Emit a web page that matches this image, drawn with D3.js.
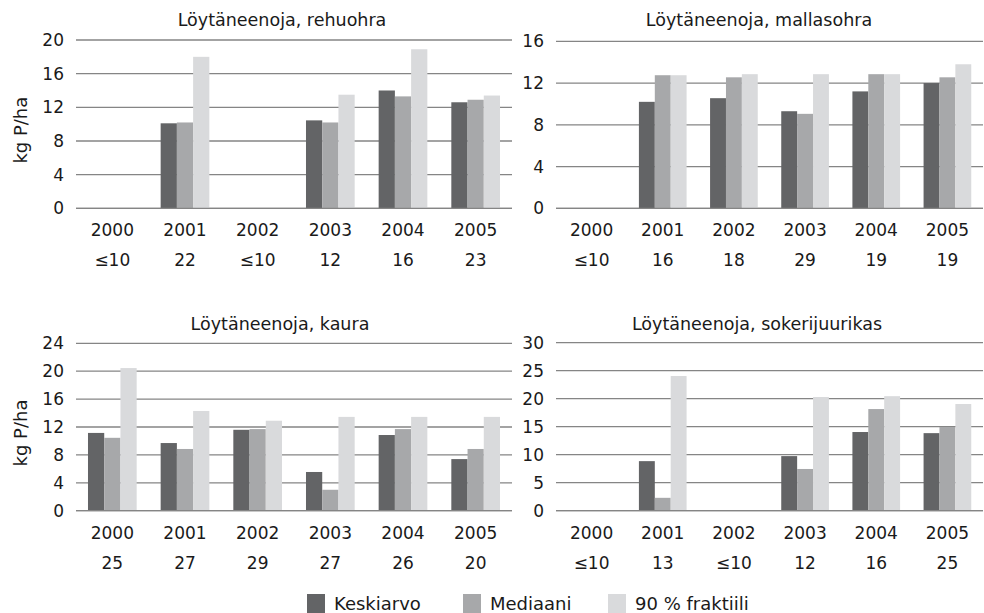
<!DOCTYPE html>
<html><head><meta charset="utf-8">
<script src="https://cdn.jsdelivr.net/npm/d3@7"></script>
<style>body{margin:0;background:#fff}svg{display:block;font-family:"DejaVu Sans",sans-serif}</style>
</head><body><svg id="c" width="984" height="613"></svg>
<script>
const years = ["2000","2001","2002","2003","2004","2005"];
const seriesNames = ["Keskiarvo","Mediaani","90 % fraktiili"];
const colors = ["#636466","#a7a8aa","#d9dadc"];

const titles = ["Löytäneenoja, rehuohra","Löytäneenoja, mallasohra","Löytäneenoja, kaura","Löytäneenoja, sokerijuurikas"];
const counts = [
  ["≤10","22","≤10","12","16","23"],
  ["≤10","16","18","29","19","19"],
  ["25","27","29","27","26","20"],
  ["≤10","13","≤10","12","16","25"]
];
const yMax = [20,16,24,30];
const yStep = [4,4,4,5];

// rehuohra
const rehuKeski = [null,10.1,null,10.45,14.0,12.6];
const rehuMedi  = [null,10.2,null,10.2,13.3,12.9];
const rehuFrak  = [null,18.0,null,13.5,18.9,13.4];
// mallasohra
const mallasKeski = [null,10.2,10.55,9.3,11.2,12.0];
const mallasMedi  = [null,12.75,12.55,9.05,12.85,12.55];
const mallasFrak  = [null,12.75,12.85,12.85,12.85,13.8];
// kaura
const kauraKeski = [11.15,9.7,11.6,5.55,10.85,7.4];
const kauraMedi  = [10.45,8.85,11.7,3.0,11.7,8.85];
const kauraFrak  = [20.45,14.3,12.9,13.45,13.45,13.45];
// sokerijuurikas
const sokeriKeski = [null,8.85,null,9.75,14.05,13.85];
const sokeriMedi  = [null,2.3,null,7.45,18.15,14.95];
const sokeriFrak  = [null,24.05,null,20.3,20.45,19.05];

const panelSeries = [
  [rehuKeski,rehuMedi,rehuFrak],
  [mallasKeski,mallasMedi,mallasFrak],
  [kauraKeski,kauraMedi,kauraFrak],
  [sokeriKeski,sokeriMedi,sokeriFrak]
];

const svg = d3.select("#c");
const layout = [
  {x0:76,x1:512,yTop:40,yBot:208.3,title:[282,20],ylab:true},
  {x0:556,x1:983,yTop:41.3,yBot:208.3,title:[759,20],ylab:false},
  {x0:76,x1:512,yTop:343.3,yBot:510.7,title:[280,324],ylab:true},
  {x0:556,x1:983,yTop:342.7,yBot:510.7,title:[757,324],ylab:false}
];
const TXT = "#1a1a1a";

layout.forEach((L,p)=>{
  const g = svg.append("g");
  const x0 = d3.scaleBand().domain(years).range([L.x0,L.x1]).paddingInner(0.33).paddingOuter(0.165);
  const x1 = d3.scaleBand().domain(d3.range(3)).range([0,x0.bandwidth()]);
  const y = d3.scaleLinear().domain([0,yMax[p]]).range([L.yBot,L.yTop]);
  const ticks = d3.range(0,yMax[p]+0.001,yStep[p]);

  g.selectAll("line.grid").data(ticks).join("line")
    .attr("x1",L.x0).attr("x2",L.x1)
    .attr("y1",d=>y(d)).attr("y2",d=>y(d))
    .attr("stroke","#858585").attr("stroke-width",1.3);
  g.selectAll("text.yt").data(ticks).join("text")
    .attr("x",L.x0-12).attr("y",d=>y(d)).attr("dy","0.36em")
    .attr("text-anchor","end").attr("font-size",17).attr("fill",TXT)
    .text(d=>d);

  const flat = [];
  panelSeries[p].forEach((s,si)=>s.forEach((v,yi)=>{ if(v!=null) flat.push({si,yi,v}); }));
  g.selectAll("rect").data(flat).join("rect")
    .attr("x",d=>x0(years[d.yi])+x1(d.si))
    .attr("width",x1.bandwidth())
    .attr("y",d=>y(d.v))
    .attr("height",d=>y(0)-y(d.v))
    .attr("fill",d=>colors[d.si]);

  g.append("line").attr("x1",L.x0).attr("x2",L.x1).attr("y1",y(0)).attr("y2",y(0))
    .attr("stroke","#858585").attr("stroke-width",1.3);

  g.selectAll("text.xy").data(years).join("text")
    .attr("x",d=>x0(d)+x0.bandwidth()/2).attr("y",L.yBot+22).attr("dy","0.36em")
    .attr("text-anchor","middle").attr("font-size",17).attr("fill",TXT).text(d=>d);
  g.selectAll("text.xc").data(counts[p]).join("text")
    .attr("x",(d,i)=>x0(years[i])+x0.bandwidth()/2).attr("y",L.yBot+52).attr("dy","0.36em")
    .attr("text-anchor","middle").attr("font-size",17).attr("fill",TXT).text(d=>d);

  g.append("text").attr("x",L.title[0]).attr("y",L.title[1]).attr("dy","0.36em")
    .attr("text-anchor","middle").attr("font-size",17.5).attr("fill",TXT).text(titles[p]);

  if(L.ylab){
    g.append("text").attr("transform",`translate(21,${(L.yTop+L.yBot)/2 + 6}) rotate(-90)`)
      .attr("dy","0.36em").attr("text-anchor","middle").attr("font-size",18).attr("fill",TXT).text("kg P/ha");
  }
});

const legX = [307,463,608];
const lg = svg.append("g");
seriesNames.forEach((n,i)=>{
  lg.append("rect").attr("x",legX[i]).attr("y",594).attr("width",18).attr("height",19).attr("fill",colors[i]);
  lg.append("text").attr("x",legX[i]+27).attr("y",604).attr("dy","0.36em").attr("font-size",18).attr("fill",TXT).text(n);
});
</script></body></html>
